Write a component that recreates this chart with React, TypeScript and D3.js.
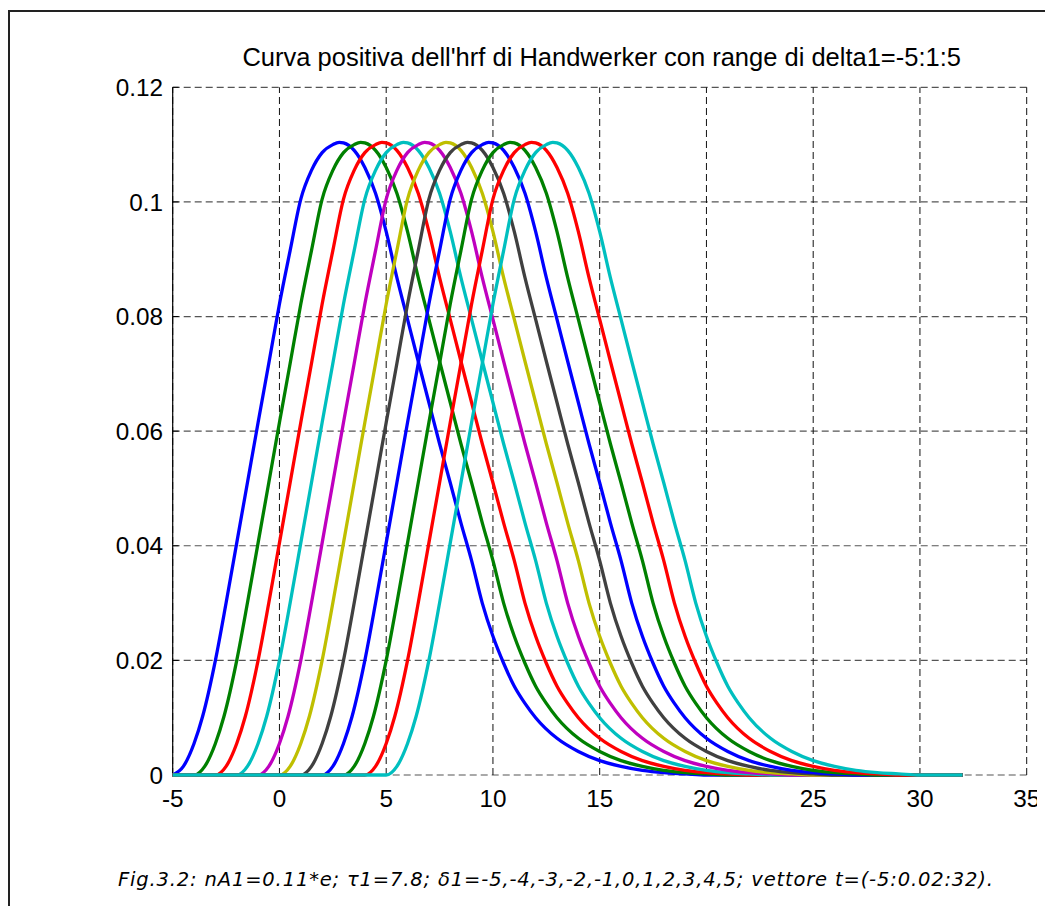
import React from "react";
import * as d3 from "d3";

// delta1 shifts (onset of each curve), from the caption
const deltas = [-5, -4, -3, -2, -1, 0, 1, 2, 3, 4, 5];
const seriesColors = ["#0000ff", "#008000", "#ff0000", "#00bfbf", "#bf00bf", "#bfbf00", "#404040", "#0000ff", "#008000", "#ff0000", "#00bfbf"];

// shape of one curve: time since onset and value
const shapeTime = [0, 0.5, 1, 1.4, 2, 2.5, 3, 3.5, 4, 4.5, 5, 5.5, 6, 6.5, 7, 7.5, 7.8, 8, 8.5, 9, 9.5, 10, 10.5, 11, 11.5, 12, 12.5, 13, 13.5, 14, 14.5, 15, 15.5, 16, 16.5, 17, 18, 19, 20, 21, 22, 23, 24, 25];
const shapeValue = [0, 0.0015, 0.0055, 0.0102, 0.020, 0.030, 0.0405, 0.051, 0.0615, 0.0718, 0.0822, 0.0915, 0.1005, 0.1055, 0.1086, 0.1100, 0.1104, 0.1103, 0.1090, 0.1060, 0.1015, 0.0948, 0.0868, 0.0795, 0.0722, 0.0650, 0.0578, 0.0510, 0.0440, 0.0374, 0.0300, 0.0242, 0.0195, 0.0155, 0.0125, 0.0100, 0.0064, 0.0041, 0.0025, 0.0015, 0.0008, 0.0004, 0.0002, 0];
const tStart = -5;
const tEnd = 32;

const xTicks = [-5, 0, 5, 10, 15, 20, 25, 30, 35];
const yTicks = [0, 0.02, 0.04, 0.06, 0.08, 0.1, 0.12];

const title = "Curva positiva dell'hrf di Handwerker con range di delta1=-5:1:5";
const caption = "Fig.3.2: nA1=0.11*e; \u03C41=7.8; \u03B41=-5,-4,-3,-2,-1,0,1,2,3,4,5; vettore t=(-5:0.02:32).";

export default function App() {
  const W = 1045, H = 906;
  const x = d3.scaleLinear().domain([-5, 35]).range([172.7, 1026.7]);
  const y = d3.scaleLinear().domain([0, 0.12]).range([775, 87.3]);
  const line = d3.line<[number, number]>().x(d => x(d[0])).y(d => y(d[1])).curve(d3.curveMonotoneX);
  const font = "Arial, 'Liberation Sans', Helvetica, sans-serif";

  const paths = deltas.map((dl, i) => {
    const pts: [number, number][] = [[tStart, 0]];
    if (dl > tStart) pts.push([dl, 0]);
    shapeTime.forEach((t, k) => {
      if (k === 0 && dl === tStart) return;
      pts.push([dl + t, shapeValue[k]]);
    });
    pts.push([tEnd, 0]);
    return <path key={i} d={line(pts) || ""} fill="none" stroke={seriesColors[i]} strokeWidth={3.3} strokeLinejoin="round" />;
  });

  return (
    <svg width={W} height={H} style={{ position: "fixed", left: 0, top: 0, background: "#fff" }}>
      <defs>
        <clipPath id="figclip">
          <rect x={0} y={0} width={1037} height={H} />
        </clipPath>
      </defs>
      <rect x={0} y={0} width={W} height={H} fill="#fff" />
      <rect x={9} y={11} width={W + 20} height={H + 20} fill="none" stroke="#222" strokeWidth={2} />
      {/* grid */}
      {yTicks.map(v => (
        <line key={"gy" + v} x1={x(-5)} x2={x(35)} y1={y(v)} y2={y(v)} stroke="#555" strokeWidth={1.2} strokeDasharray="7,4" />
      ))}
      {xTicks.map(v => (
        <line key={"gx" + v} x1={x(v)} x2={x(v)} y1={y(0)} y2={y(0.12)} stroke="#111" strokeWidth={1} strokeDasharray="7,4" />
      ))}
      {/* left axis */}
      <line x1={x(-5)} x2={x(-5)} y1={y(0)} y2={y(0.12)} stroke="#000" strokeWidth={1.2} />
      {yTicks.map(v => (
        <line key={"ty" + v} x1={x(-5)} x2={x(-5) + 6} y1={y(v)} y2={y(v)} stroke="#000" strokeWidth={1} />
      ))}
      {paths}
      {/* tick labels */}
      <g clipPath="url(#figclip)">
        {xTicks.map(v => (
          <text key={"lx" + v} x={x(v)} y={807} textAnchor="middle" fontFamily={font} fontSize={24.3} fill="#000">{v}</text>
        ))}
      </g>
      {yTicks.map(v => (
        <text key={"ly" + v} x={163} y={y(v) + 8.7} textAnchor="end" fontFamily={font} fontSize={24.3} fill="#000">{String(v)}</text>
      ))}
      <text x={(x(-5) + x(35)) / 2 + 2} y={66} textAnchor="middle" fontFamily={font} fontSize={25.5} fill="#000">{title}</text>
      <text x={118} y={886} fontFamily="'DejaVu Sans', Verdana, sans-serif" fontStyle="italic" fontSize={19.5} fill="#000" textLength={875} lengthAdjust="spacing">{caption}</text>
    </svg>
  );
}
